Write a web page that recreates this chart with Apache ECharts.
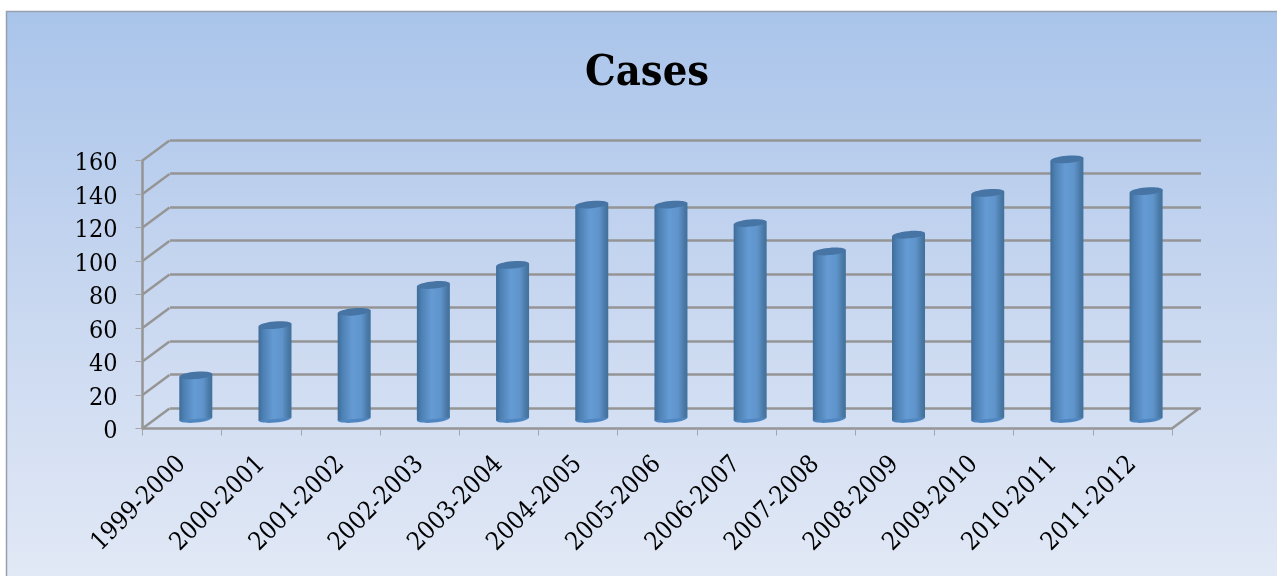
<!DOCTYPE html>
<html>
<head>
<meta charset="utf-8">
<style>html,body{margin:0;padding:0;background:#fff}#c{width:1277px;height:576px}</style>
<script src="https://cdn.jsdelivr.net/npm/echarts@6/dist/echarts.min.js"></script>
</head>
<body>
<div id="c"></div>
<script>
const categories = ['1999-2000','2000-2001','2001-2002','2002-2003','2003-2004','2004-2005','2005-2006','2006-2007','2007-2008','2008-2009','2009-2010','2010-2011','2011-2012'];
const cases = [26,56,64,80,92,128,128,117,100,110,135,155,136];
const yTicks = [0,20,40,60,80,100,120,140,160];

const FONT = '"DejaVu Serif Condensed", "DejaVu Serif", serif';
const LINE = '#959595';
const DX = 27, DY = -20;

const chart = echarts.init(document.getElementById('c'), null, {renderer: 'canvas'});

function renderWall(params, api) {
  const v = api.value(0);
  const band = api.size([1, 0])[0];
  const first = api.coord([0, v]);
  const last = api.coord([categories.length - 1, v]);
  const x0 = first[0] - band / 2, y = first[1];
  const shapes = [{
    type: 'line',
    shape: {x1: x0, y1: y, x2: x0 + DX, y2: y + DY},
    style: {stroke: LINE, lineWidth: 2.5}
  }];
  if (v === 0) {
    const x1 = last[0] + band / 2;
    shapes.push({
      type: 'line',
      shape: {x1: x1, y1: y, x2: x1 + DX, y2: y + DY},
      style: {stroke: LINE, lineWidth: 2.5}
    });
  }
  return {type: 'group', children: shapes};
}

function renderBar(params, api) {
  const top = api.coord([api.value(0), api.value(1)]);
  const base = api.coord([api.value(0), 0]);
  const cx = top[0] + DX / 2 + 0.2, yT = top[1] + DY / 2 + 0.5, yB = base[1] + DY / 2 + 0.5;
  const rx = 16.5, ry = 3.6, tilt = 1.5;
  const xl = cx - rx, xr = cx + rx;
  const bodyFill = new echarts.graphic.LinearGradient(0, 0, 1, 0, [
    {offset: 0, color: '#3e6c98'},
    {offset: 0.14, color: '#4d80b3'},
    {offset: 0.45, color: '#659bd4'},
    {offset: 0.72, color: '#5f94cb'},
    {offset: 0.9, color: '#4a79a6'},
    {offset: 1, color: '#40709c'}
  ]);
  return {
    type: 'group',
    children: [
      {type: 'ellipse', shape: {cx: 0, cy: 0, rx: rx, ry: ry}, x: cx, y: yB, rotation: 0.09,
        style: {fill: '#4f86c0'}},
      {type: 'polygon', shape: {points: [[xl, yT + tilt], [xr, yT - tilt], [xr, yB - tilt], [xl, yB + tilt]]},
        style: {fill: bodyFill}},
      {type: 'ellipse', shape: {cx: 0, cy: 0, rx: rx, ry: ry}, x: cx, y: yT, rotation: 0.09,
        style: {fill: '#4674a5'}}
    ]
  };
}

chart.setOption({
  animation: false,
  graphic: [{
    type: 'rect', z: -10, silent: true,
    shape: {x: 6.5, y: 11.5, width: 1275, height: 570},
    style: {
      fill: new echarts.graphic.LinearGradient(0, 0, 0, 1, [
        {offset: 0, color: '#a9c4ea'},
        {offset: 0.5, color: '#c8d7f0'},
        {offset: 1, color: '#e2e9f6'}
      ]),
      stroke: '#97a0ad', lineWidth: 1.5
    }
  }],
  title: {
    text: 'Cases', left: 642, top: 47, textAlign: 'center',
    textStyle: {fontFamily: FONT, fontSize: 43, fontWeight: 'bold', color: '#000'}
  },
  grid: [
    {left: 142.5, right: 105, top: 160.5, bottom: 147.5},
    {left: 170, right: 76, top: 140, bottom: 168}
  ],
  xAxis: [
    {
      type: 'category', gridIndex: 0, data: categories,
      axisLine: {lineStyle: {color: LINE, width: 2.5}},
      axisTick: {show: true, length: 7, alignWithLabel: false, lineStyle: {color: '#a5a5a5', width: 1}},
      axisLabel: {interval: 0, rotate: 45, margin: 32, fontFamily: FONT, fontSize: 25, color: '#000'}
    },
    {type: 'category', gridIndex: 1, data: categories, show: false}
  ],
  yAxis: [
    {
      type: 'value', gridIndex: 0, min: 0, max: 160, interval: 20,
      axisLine: {show: true, lineStyle: {color: LINE, width: 2.5}},
      axisTick: {show: true, length: 7, lineStyle: {color: '#a5a5a5', width: 1}},
      axisLabel: {margin: 25, formatter: '{n|{value}}', rich: {n: {padding: [6, 0, 0, 0], fontFamily: FONT, fontSize: 25, color: '#000'}}},
      splitLine: {show: false}
    },
    {
      type: 'value', gridIndex: 1, min: 0, max: 160, interval: 20,
      axisLine: {show: false}, axisTick: {show: false}, axisLabel: {show: false},
      splitLine: {show: true, lineStyle: {color: LINE, width: 2.5}}
    }
  ],
  series: [
    {
      type: 'custom', xAxisIndex: 0, yAxisIndex: 0, clip: false, z: 2,
      renderItem: renderWall, data: yTicks.map(v => [v]),
      encode: {y: 0}, silent: true
    },
    {
      type: 'custom', xAxisIndex: 0, yAxisIndex: 0, clip: false, z: 5,
      renderItem: renderBar, data: cases.map((v, i) => [i, v]),
      encode: {x: 0, y: 1}, silent: true
    }
  ]
});
</script>
</body>
</html>
